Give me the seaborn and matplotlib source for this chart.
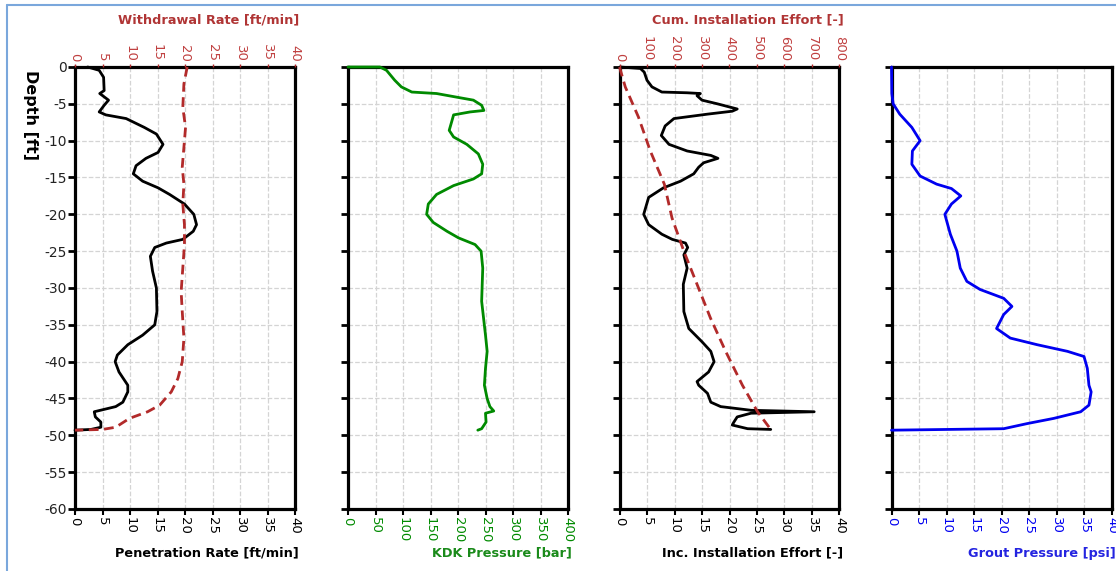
import matplotlib.pyplot as plt
import matplotlib.lines as mlines
import numpy as np
import pandas as pd
import seaborn as sns

# ---- data ----
# Penetration rate [ft/min] vs depth [ft]
pen_depth = [0, -0.45, -1.4, -3.2, -3.6, -4.5, -5.2, -6.1, -6.5, -7.0, -8.2, -9.1, -10.5, -11.6,
             -12.4, -13.4, -14.5, -15.5, -16.4, -17.3, -18.6, -20.0, -21.4, -22.3, -23.4, -23.9,
             -24.5, -25.7, -27.7, -30.0, -33.2, -35.0, -36.4, -37.7, -39.1, -40.0, -41.4, -43.2,
             -44.1, -45.5, -46.1, -46.8, -47.5, -48.2, -48.9, -49.2, -49.3]
pen_rate = [2.3, 4.4, 5.2, 5.3, 4.5, 6.1, 5.3, 4.4, 5.6, 9.3, 12.6, 14.8, 16.0, 15.1,
            12.9, 11.1, 10.6, 12.3, 15.1, 17.2, 19.9, 21.6, 22.1, 21.5, 19.6, 16.6,
            14.5, 13.7, 14.1, 14.8, 14.9, 14.5, 12.3, 9.6, 7.7, 7.3, 8.0, 9.6,
            9.6, 8.7, 7.4, 3.5, 3.7, 4.7, 4.7, 2.9, 0.0]

# Withdrawal rate [ft/min]
wd_depth = [0, -2.3, -5.5, -8.2, -10.9, -13.6, -15.9, -18.6, -21.4, -24.1, -27.3, -30.5, -33.2,
            -36.8, -40.0, -42.3, -44.1, -45.9, -46.8, -47.7, -48.9, -49.2, -49.3]
wd_rate = [20.4, 19.8, 19.6, 20.1, 19.8, 19.5, 19.8, 19.6, 19.9, 19.9, 19.6, 19.3, 19.5,
           19.8, 19.5, 18.7, 17.5, 15.4, 13.2, 9.9, 7.4, 5.0, 0.0]

# KDK pressure [bar]
kdk_depth = [0, 0, -0.45, -1.8, -2.7, -3.4, -3.6, -4.1, -4.5, -5.2, -5.9, -6.1, -6.5, -7.3,
             -8.6, -9.5, -10.5, -11.8, -13.2, -14.5, -15.2, -16.1, -17.3, -18.6, -20.0, -21.1,
             -22.3, -23.2, -24.1, -25.0, -27.3, -31.8, -36.4, -38.6, -40.9, -43.2, -45.0,
             -46.1, -46.7, -47.0, -48.2, -49.1, -49.3]
kdk_press = [0, 58, 70, 85, 97, 116, 161, 198, 228, 243, 247, 222, 192, 189,
             184, 192, 216, 237, 245, 243, 228, 192, 161, 146, 143, 155,
             180, 201, 231, 242, 245, 243, 250, 253, 250, 248, 253,
             258, 265, 250, 251, 243, 236]

# Incremental installation effort [-]
inc_depth = [0, -0.2, -0.7, -1.8, -2.7, -3.4, -3.5, -3.6, -3.9, -4.5, -5.0, -5.7, -6.0, -6.4,
             -7.0, -8.0, -9.3, -10.5, -11.4, -12.0, -12.4, -13.0, -13.6, -14.5, -15.5, -16.4,
             -17.7, -20.0, -21.4, -22.7, -23.4, -23.9, -24.5, -25.5, -27.3, -29.5, -33.2,
             -35.5, -37.3, -38.6, -40.0, -41.4, -42.7, -43.2, -44.3, -45.5, -46.1, -46.6,
             -46.8, -47.0, -47.5, -48.2, -48.6, -49.1, -49.2]
inc_effort = [0.1, 3.8, 4.5, 5.0, 5.9, 7.7, 12.3, 14.7, 14.1, 15.0, 17.8, 21.4, 20.5, 16.0,
              9.9, 8.3, 7.6, 9.0, 12.3, 16.6, 17.9, 15.3, 14.4, 13.5, 11.1, 8.0,
              5.3, 4.4, 5.3, 7.7, 9.6, 12.0, 12.4, 11.7, 12.3, 11.6, 11.7,
              12.6, 15.0, 16.6, 17.2, 16.2, 14.1, 14.4, 16.0, 16.6, 18.4, 23.9,
              35.4, 23.9, 21.4, 20.8, 20.5, 23.3, 27.5]

# Cumulative installation effort [-]
cum_depth = [0, -2.7, -6.8, -11.4, -15.9, -20.5, -25.0, -29.5, -34.1, -38.6, -43.2, -46.8, -49.2]
cum_effort = [0, 21, 69, 112, 163, 191, 234, 282, 331, 386, 447, 502, 550]

# Grout pressure [psi]
grout_depth = [0, -3.6, -5.0, -6.4, -8.2, -10.0, -11.4, -13.2, -14.8, -15.9, -16.5, -17.5, -18.6,
               -20.0, -22.7, -25.0, -27.3, -29.1, -30.2, -31.4, -32.5, -33.6, -35.5, -36.8,
               -37.7, -38.6, -39.3, -40.9, -43.2, -44.1, -45.9, -46.8, -47.7, -48.4, -49.1, -49.3]
grout_press = [0, 0.06, 0.3, 1.5, 3.7, 5.2, 3.8, 3.7, 5.2, 8.2, 10.9, 12.6, 10.9,
               9.7, 10.7, 11.9, 12.5, 13.7, 16.1, 20.4, 21.9, 20.4, 19.1, 21.6,
               26.5, 32.0, 35.0, 35.6, 35.9, 36.3, 35.9, 34.4, 29.5, 24.7, 20.4, 0.0]

bottom_labels = ['Penetration Rate [ft/min]', 'KDK Pressure [bar]',
                 'Inc. Installation Effort [-]', 'Grout Pressure [psi]']
top_labels = ['Withdrawal Rate [ft/min]', None, 'Cum. Installation Effort [-]', None]
bottom_limits = [40, 400, 40, 40]
bottom_steps = [5, 50, 5, 5]

RED = '#b22a2a'
GREEN = '#008a00'
BLUE = '#0000f0'
label_colors = ['black', '#1a8a1a', 'black', '#2424e0']
tick_colors = ['black', GREEN, 'black', BLUE]

sns.set_theme(style='white')
plt.rcParams['font.family'] = ['DejaVu Sans']
plt.rcParams['axes.unicode_minus'] = False

fig = plt.figure(figsize=(11.16, 5.71), dpi=100)

W, H = 1116, 571
lefts = [75, 348, 619.5, 891.5]
axes = [fig.add_axes([lp / W, 1 - 509 / H, 220 / W, 442 / H]) for lp in lefts]

series = [(pen_rate, pen_depth, 'black'), (kdk_press, kdk_depth, GREEN),
          (inc_effort, inc_depth, 'black'), (grout_press, grout_depth, BLUE)]

for i, ax in enumerate(axes):
    x, y, c = series[i]
    d = pd.DataFrame({'x': x, 'y': y})
    sns.lineplot(data=d, x='x', y='y', sort=False, estimator=None, color=c, lw=2.0,
                 zorder=4, ax=ax)
    for ln in ax.lines:
        ln.set_clip_on(False)
    ax.set_xlim(0, bottom_limits[i])
    ax.set_ylim(-60, 0)
    ax.set_xticks(np.arange(0, bottom_limits[i] + 1, bottom_steps[i]))
    ax.set_yticks(np.arange(-60, 1, 5))
    ax.grid(True, color='#d4d4d4', ls='--', lw=0.9)
    for s in ax.spines.values():
        s.set_color('black')
        s.set_linewidth(2.3)
    ax.tick_params(axis='x', bottom=True, direction='out', length=4, width=1.5, color='black',
                   labelrotation=270, labelsize=9.5, labelcolor=tick_colors[i], pad=2)
    ax.tick_params(axis='y', left=True, direction='out', length=5, width=2, color='black',
                   labelsize=10, labelcolor='#222222', pad=1, labelleft=(i == 0))
    ax.set_xlabel('')
    ax.set_ylabel('')
    right = (lefts[i] + 220 + 4) / W
    fig.text(right, 1 - 553 / H, bottom_labels[i], ha='right', va='center',
             fontsize=9.3, fontweight='bold', color=label_colors[i])
    if top_labels[i]:
        fig.text(right, 1 - 20 / H, top_labels[i], ha='right', va='center',
                 fontsize=9.3, fontweight='bold', color='#b03535')

# top axes with the dashed series
top = axes[0].twiny()
d = pd.DataFrame({'x': wd_rate, 'y': wd_depth})
sns.lineplot(data=d, x='x', y='y', sort=False, estimator=None, color=RED, lw=2.0,
             ls=(0, (3.5, 2)), ax=top)
top.set_xlim(0, 40)
top.set_xticks(np.arange(0, 41, 5))

top3 = axes[2].twiny()
d = pd.DataFrame({'x': cum_effort, 'y': cum_depth})
sns.lineplot(data=d, x='x', y='y', sort=False, estimator=None, color=RED, lw=2.0,
             ls=(0, (3.5, 2)), ax=top3)
top3.set_xlim(0, 800)
top3.set_xticks(np.arange(0, 801, 100))

for t in (top, top3):
    t.set_ylim(-60, 0)
    t.set_ylabel('')
    t.set_xlabel('')
    for ln in t.lines:
        ln.set_clip_on(False)
    t.tick_params(axis='x', top=True, direction='out', length=2, width=1, color=RED,
                  labelrotation=270, labelsize=9.5, labelcolor='#c04040', pad=2)
    for s in t.spines.values():
        s.set_visible(False)

fig.text(30 / W, 1 - 70 / H, 'Depth [ft]', rotation=270, ha='center', va='top',
         fontsize=11.5, fontweight='bold', color='black')

# thin light blue frame at the top/left edges
frame_c = '#7aa7dc'
fig.add_artist(mlines.Line2D([7 / W, 7 / W], [0, 1 - 5 / H], color=frame_c, lw=1.5))
fig.add_artist(mlines.Line2D([7 / W, 1], [1 - 5 / H, 1 - 5 / H], color=frame_c, lw=1.5))

fig.savefig('out.png', dpi=100)
